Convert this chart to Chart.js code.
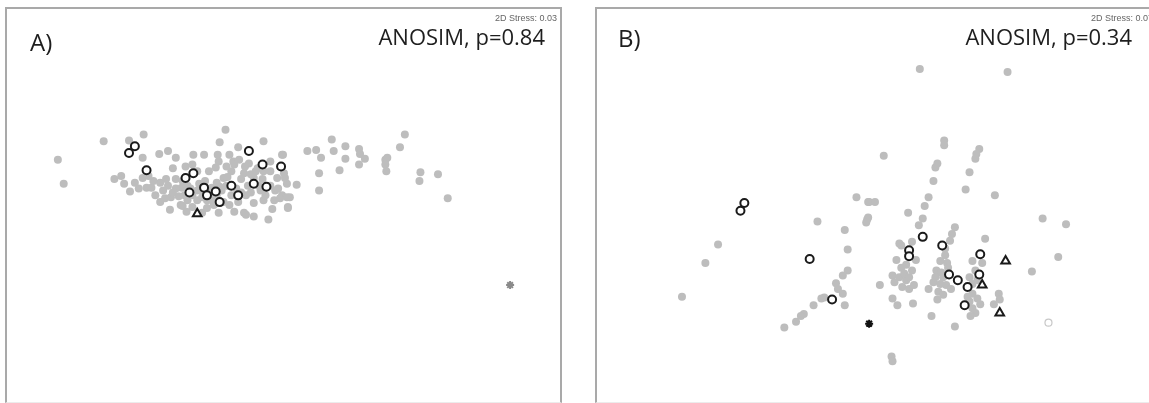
<!DOCTYPE html>
<html>
<head>
<meta charset="utf-8">
<script src="https://cdn.jsdelivr.net/npm/chart.js@4"></script>
<style>
  body { margin: 0; background: #fff; width: 1149px; height: 403px; overflow: hidden; position: relative; }
  .panel { position: absolute; top: 7px; border-top: 2px solid #a9a9a9; border-left: 2px solid #a9a9a9; border-bottom: 1px solid #ececec; }
  #panel-a { left: 5px; border-right: 2px solid #a9a9a9; }
  #panel-b { left: 595px; }
  canvas { display: block; }
</style>
</head>
<body>
<div class="panel" id="panel-a"><canvas id="chart-a" width="553" height="393"></canvas></div>
<div class="panel" id="panel-b"><canvas id="chart-b" width="554" height="393"></canvas></div>
<script>
// Panel A - ordination coordinates
const aGray = [
  [52,158],[58,183],[99,139],[125,138],[140,132],[224,127],[263,139],[156,152],[165,149],[139,156],
  [173,156],[191,153],[202,153],[218,140],[237,145],[216,153],[217,160],[228,153],[232,160],[282,153],
  [110,178],[117,175],[126,191],[139,177],[143,187],[157,182],[163,178],[170,167],[173,178],[179,187],
  [190,163],[173,188],[157,202],[168,197],[178,205],[190,207],[200,197],[203,180],[210,187],[222,177],
  [230,170],[233,163],[240,178],[243,172],[247,185],[250,192],[253,177],[257,167],[270,170],[277,177],
  [287,183],[290,197],[288,207],[263,200],[272,209],[253,203],[243,213],[253,217],[268,220],[217,213],
  [222,202],[230,195],[205,208],[190,195],[197,183],[148,187],[135,188],[237,202],[210,200],
  [160,190],[165,185],[180,180],[185,185],[195,190],[200,190],[215,182],[220,190],[225,185],[235,188],
  [245,195],[260,190],[265,195],[275,190],[182,195],[170,192],[150,180],[145,175],[185,200],[195,200],
  [205,200],[215,195],[228,205],[240,192],[255,170],[262,178],[282,195],[195,170],[183,165],[207,170],
  [225,165],[238,158],[248,162],[270,160],[278,188],[167,210],[180,206],[233,212],[245,215],[280,198],
  [152,195],[162,198],[176,196],[188,188],[208,193],[218,186],[258,185],[270,185],[284,172],[274,200],
  [200,213],[212,205],[184,212],[226,176],[250,173],[263,170],[120,183],[131,182],[214,166],[244,165],
  [283,153],[308,149],[317,148],[322,156],[333,137],[335,149],[347,144],[347,157],[361,147],[362,152],
  [367,157],[361,163],[341,169],[320,172],[320,190],[297,184],[285,177],[287,197],[288,208],[388,158],
  [390,156],[388,163],[389,170],[403,145],[408,132],[424,171],[423,180],[442,173],[452,198]
];
const aCircle = [
  [125,151],[131,144],[143,169],[183,177],[191,172],[248,149],[262,163],[281,165],[187,192],[202,187],
  [205,195],[214,191],[230,185],[237,195],[253,183],[266,186],[218,202]
];
const aTriangle = [[195,214]];
const aStar = [[516,288]];

// Panel B
const bGray = [
  [921,64],[1011,67],[714,246],[701,265],[677,300],[816,222],[856,197],[868,202],[867,220],[844,231],
  [847,251],[847,273],[842,278],[835,286],[837,292],[842,297],[823,301],[820,302],[844,309],[812,309],
  [802,318],[799,320],[794,326],[782,332],[884,154],[946,138],[946,143],[982,147],[979,152],[978,157],
  [939,162],[937,166],[972,171],[935,180],[968,189],[998,195],[930,197],[869,202],[875,202],[926,206],
  [909,213],[868,218],[866,223],[924,219],[920,226],[1047,219],[1071,225],[957,228],[954,235],[952,242],
  [988,240],[902,247],[1063,259],[1036,274],
  [900,245],[913,243],[897,262],[902,270],[893,278],[900,280],[907,283],[913,273],[903,290],[910,292],
  [915,288],[907,267],[917,262],[880,288],[893,302],[898,309],[914,307],[905,276],[895,285],[910,280],
  [947,250],[947,257],[942,263],[949,265],[938,273],[943,275],[935,285],[942,287],[948,288],[953,292],
  [940,295],[930,292],[945,298],[939,303],[933,320],[957,331],[945,280],[950,270],[937,280],
  [975,263],[985,265],[972,280],[978,273],[975,287],[975,297],[980,302],[972,305],[983,308],[975,312],
  [978,317],[973,320],[1002,297],[1003,303],[997,308],[980,283],[970,300],
  [892,362],[893,367]
];
const bCircle = [
  [741,203],[737,211],[808,261],[831,303],[924,238],[910,252],[910,258],[983,256],[951,277],[960,283],
  [982,277],[970,290],[967,309],[944,247]
];
const bTriangle = [[1009,263],[985,288],[1003,317]];
const bStar = [[869,328]];
const bFaint = [[1053,327]];

// Labels
const panelLetters = ['A)', 'B)'];
const anosimLabels = ['ANOSIM, p=0.84', 'ANOSIM, p=0.34'];
const stressLabels = ['2D Stress: 0.03', '2D Stress: 0.07'];

const toXY = arr => arr.map(p => ({ x: p[0], y: p[1] }));

// Draws the panel letter, ANOSIM result and stress value
const panelText = {
  id: 'panelText',
  afterDraw(chart, args, opts) {
    const ctx = chart.ctx;
    ctx.save();
    ctx.fillStyle = '#1e1e1e';
    ctx.font = '24px "Open Sans"';
    ctx.textAlign = 'left';
    ctx.fillText(opts.letter, opts.letterX, opts.letterY);
    ctx.font = '22px "Open Sans"';
    ctx.textAlign = 'right';
    ctx.fillText(opts.anosim, opts.anosimX, 36);
    ctx.fillStyle = '#666';
    ctx.font = '9px "Liberation Sans"';
    ctx.fillText(opts.stress, opts.stressX, 12);
    ctx.restore();
  }
};

function makeDatasets(gray, circles, triangles, stars, starColor, faint) {
  const sets = [
    { data: toXY(circles), pointStyle: 'circle', radius: 4, backgroundColor: '#fff', borderColor: '#1a1a1a', borderWidth: 2 },
    { data: toXY(triangles), pointStyle: 'triangle', radius: 5, backgroundColor: '#fff', borderColor: '#1a1a1a', borderWidth: 2 },
    { data: toXY(stars), pointStyle: 'star', radius: 4, backgroundColor: starColor, borderColor: starColor, borderWidth: 2 },
    { data: toXY(gray), pointStyle: 'circle', radius: 4, backgroundColor: '#bdbdbd', borderWidth: 0 }
  ];
  if (faint) {
    sets.push({ data: toXY(faint), pointStyle: 'circle', radius: 3.5, backgroundColor: '#fff', borderColor: '#c8c8c8', borderWidth: 1.2 });
  }
  return sets;
}

function makeChart(id, datasets, xMin, xMax, textOpts) {
  return new Chart(document.getElementById(id), {
    type: 'scatter',
    data: { datasets: datasets },
    options: {
      responsive: false,
      animation: false,
      layout: { padding: 0 },
      scales: {
        x: { display: false, min: xMin, max: xMax },
        y: { display: false, min: 9, max: 402, reverse: true }
      },
      plugins: {
        legend: { display: false },
        tooltip: { enabled: false },
        panelText: textOpts
      }
    },
    plugins: [panelText]
  });
}

makeChart('chart-a', makeDatasets(aGray, aCircle, aTriangle, aStar, '#8a8a8a'), 7, 560, {
  letter: panelLetters[0], letterX: 23, letterY: 42,
  anosim: anosimLabels[0], anosimX: 538,
  stress: stressLabels[0], stressX: 550
});

makeChart('chart-b', makeDatasets(bGray, bCircle, bTriangle, bStar, '#111', bFaint), 597, 1151, {
  letter: panelLetters[1], letterX: 21, letterY: 38,
  anosim: anosimLabels[1], anosimX: 535,
  stress: stressLabels[1], stressX: 556
});
</script>
</body>
</html>
